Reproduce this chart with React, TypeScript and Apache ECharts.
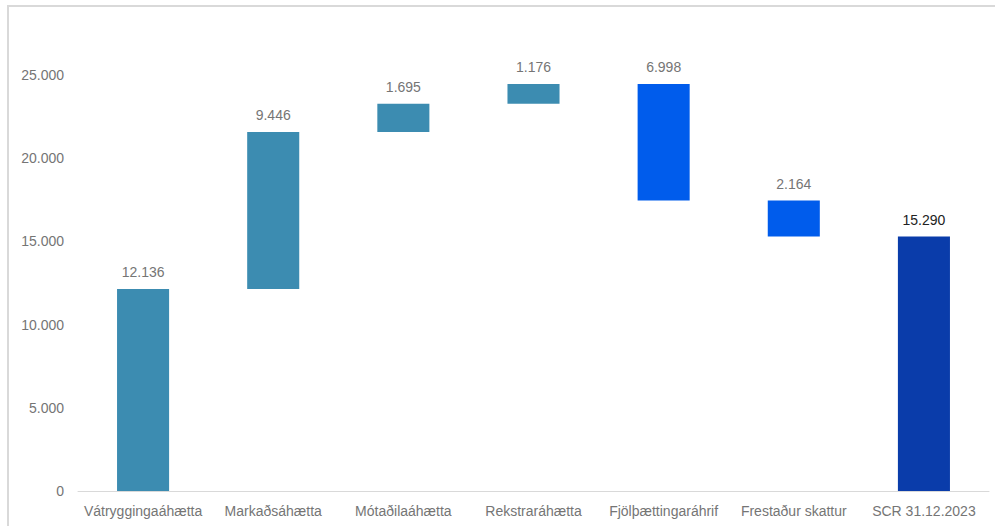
import React, { useEffect, useRef } from "react";
import * as echarts from "echarts";

const categories = [
  "Vátryggingaáhætta",
  "Markaðsáhætta",
  "Mótaðilaáhætta",
  "Rekstraráhætta",
  "Fjölþættingaráhrif",
  "Frestaður skattur",
  "SCR 31.12.2023",
];
// Bar heights (absolute size of each step)
const stepValues = [12136, 9446, 1695, 1176, 6998, 2164, 15290];
// +1 increase, -1 decrease, 0 total
const stepKinds = [1, 1, 1, 1, -1, -1, 0];
const barColors = ["#3C8CB1", "#3C8CB1", "#3C8CB1", "#3C8CB1", "#005CEC", "#005CEC", "#0A3CAA"];
const yTicks = [0, 5000, 10000, 15000, 20000, 25000];

function fmt(v: number): string {
  const s = Math.round(v).toString();
  return s.replace(/\B(?=(\d{3})+(?!\d))/g, ".");
}

export default function App() {
  const ref = useRef<HTMLDivElement>(null);
  useEffect(() => {
    if (!ref.current) return;
    const chart = echarts.init(ref.current, undefined, { renderer: "svg" });
    const bases: number[] = [];
    let running = 0;
    stepValues.forEach((v, i) => {
      const k = stepKinds[i];
      if (k === 1) {
        bases.push(running);
        running += v;
      } else if (k === -1) {
        running -= v;
        bases.push(running);
      } else {
        bases.push(0);
      }
    });
    const font = "'Liberation Sans', Arial, sans-serif";
    chart.setOption({
      animation: false,
      backgroundColor: "#ffffff",
      textStyle: { fontFamily: font },
      graphic: [
        {
          type: "rect",
          shape: { x: 8, y: 6, width: 1100, height: 700 },
          style: { fill: "none", stroke: "#d9d9d9", lineWidth: 2 },
          silent: true,
        },
      ],
      grid: { left: 78, right: 6, top: 75, bottom: 35, containLabel: false },
      xAxis: {
        type: "category",
        data: categories,
        axisLine: { show: true, lineStyle: { color: "#d9d9d9", width: 1 } },
        axisTick: { show: false },
        axisLabel: { color: "#757575", fontSize: 14, margin: 13, interval: 0, fontFamily: font },
      },
      yAxis: {
        type: "value",
        min: yTicks[0],
        max: yTicks[yTicks.length - 1],
        interval: 5000,
        splitLine: { show: false },
        axisLine: { show: false },
        axisTick: { show: false },
        axisLabel: {
          color: "#757575",
          fontSize: 14,
          margin: 14,
          fontFamily: font,
          formatter: (v: number) => fmt(v),
        },
      },
      series: [
        {
          type: "bar",
          stack: "w",
          data: bases,
          itemStyle: { color: "transparent" },
          barWidth: "40%",
          silent: true,
        },
        {
          type: "bar",
          stack: "w",
          barWidth: "40%",
          data: stepValues.map((v, i) => ({
            value: v,
            itemStyle: { color: barColors[i] },
            label: { color: i === stepValues.length - 1 ? "#222222" : "#757575" },
          })),
          label: {
            show: true,
            position: "top",
            distance: 10,
            fontSize: 14,
            fontFamily: font,
            formatter: (p: any) => fmt(p.value),
          },
        },
      ],
    });
    return () => chart.dispose();
  }, []);
  return (
    <div
      ref={ref}
      style={{ position: "fixed", left: 0, top: 0, width: 995, height: 526, background: "#fff" }}
    />
  );
}
